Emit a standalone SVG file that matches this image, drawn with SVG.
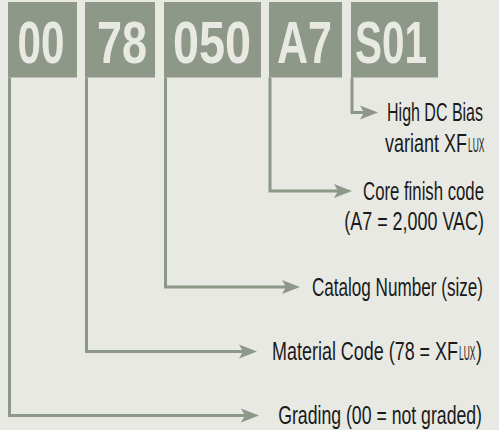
<svg xmlns="http://www.w3.org/2000/svg" width="499" height="430" viewBox="0 0 499 430">
<style>
.box{fill:#8d9888}
.code{font-family:"Liberation Sans",Arial,sans-serif;font-weight:bold;font-size:60px;fill:#e9e9e3;text-anchor:middle}
.lbl{font-family:"Liberation Sans",Arial,sans-serif;font-size:26px;fill:#1a1a1a;text-anchor:end}
.sc{font-family:"Liberation Sans",Arial,sans-serif;font-size:20px;fill:#1a1a1a;text-anchor:start}
.st{font-family:"Liberation Sans",Arial,sans-serif;font-size:26px;fill:#1a1a1a;text-anchor:start}
.conn{fill:none;stroke:#8d9888;stroke-width:3}
</style>
<defs>
<marker id="arr" markerUnits="userSpaceOnUse" markerWidth="20" markerHeight="16" refX="8" refY="7" orient="auto" overflow="visible">
<path d="M0,0 L18,7 L0,14 L4,7 z" fill="#8d9888"/>
</marker>
</defs>
<rect width="499" height="430" fill="#e9e9e4"/>
<g id="node-00"><rect class="box" x="8" y="2" width="69" height="75.5"/><text class="code" transform="translate(41,63) scale(0.705,1)">00</text></g>
<g id="node-78"><rect class="box" x="85" y="2" width="70" height="75.5"/><text class="code" transform="translate(122,63) scale(0.75,1)">78</text></g>
<g id="node-050"><rect class="box" x="164" y="2" width="97" height="75.5"/><text class="code" transform="translate(212,63) scale(0.78,1)">050</text></g>
<g id="node-A7"><rect class="box" x="269" y="2" width="73" height="75.5"/><text class="code" transform="translate(304.5,63) scale(0.717,1)">A7</text></g>
<g id="node-S01"><rect class="box" x="351" y="2" width="87" height="75.5"/><text class="code" transform="translate(391,63) scale(0.675,1)">S01</text></g>
<g id="connectors">
<path class="conn" d="M9.5,77.5 V415.5 H249" marker-end="url(#arr)"/>
<path class="conn" d="M86.5,77.5 V351.5 H247" marker-end="url(#arr)"/>
<path class="conn" d="M165.5,77.5 V287 H290" marker-end="url(#arr)"/>
<path class="conn" d="M270,77.5 V191 H342" marker-end="url(#arr)"/>
<path class="conn" d="M352,77.5 V112.5 H368" marker-end="url(#arr)"/>
</g>
<g id="labels">
<text class="lbl" transform="translate(483,121) scale(0.615,1)">High DC Bias</text>
<text class="lbl" transform="translate(467,152) scale(0.692,1)">variant XF</text>
<text class="sc" transform="translate(468,152) scale(0.42,1)">LUX</text>
<text class="lbl" transform="translate(484,200) scale(0.644,1)">Core finish code</text>
<text class="lbl" transform="translate(484,230) scale(0.69,1)">(A7 = 2,000 VAC)</text>
<text class="lbl" transform="translate(483,296) scale(0.658,1)">Catalog Number (size)</text>
<text class="lbl" transform="translate(458,360) scale(0.69,1)">Material Code (78 = XF</text>
<text class="sc" transform="translate(459,360) scale(0.42,1)">LUX</text>
<text class="st" transform="translate(476,360) scale(0.69,1)">)</text>
<text class="lbl" transform="translate(482,424) scale(0.68,1)">Grading (00 = not graded)</text>
</g>
</svg>
